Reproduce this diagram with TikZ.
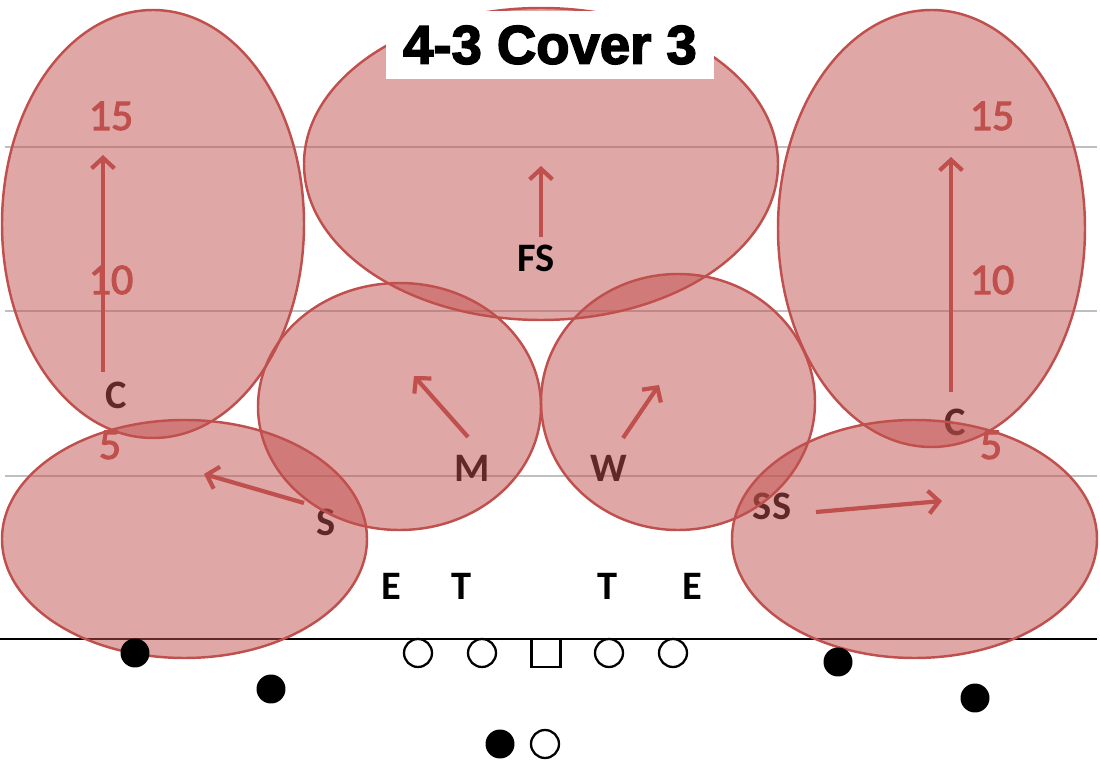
\documentclass[tikz,border=0pt]{standalone}
\usepackage{fontspec}
\setmainfont{Carlito}
\newfontfamily\titlefont{Liberation Sans}
\usetikzlibrary{arrows.meta}
\definecolor{zonered}{RGB}{192,80,77}
\definecolor{yardgray}{RGB}{191,191,191}
\newcommand{\heavytext}[2]{\special{pdf:literal direct #1 w 2 Tr}#2\special{pdf:literal direct 0 Tr}}
\tikzset{
  zone/.style={draw=zonered, line width=1.4pt, fill=zonered, fill opacity=0.5},
  route/.style={zonered, line width=2.4pt, -{Straight Barb[length=6pt, width=13pt]}},
  player/.style={font=\fontsize{23}{24}\selectfont\bfseries, inner sep=0pt},
  yardnum/.style={text=zonered, font=\fontsize{25}{26}\selectfont, inner sep=0pt},
  oline/.style={draw, line width=1.3pt, circle, minimum size=0.56cm, inner sep=0pt},
  back/.style={fill, circle, minimum size=0.58cm, inner sep=0pt}
}

\begin{document}
\begin{tikzpicture}[x=0.02cm, y=-0.02cm]
  \useasboundingbox (0,0) rectangle (1100,760);
  \foreach \yy in {147, 311, 476} {
    \draw[yardgray, line width=1pt] (5,\yy) -- (1097,\yy);
  }
  \draw[line width=0.9pt] (0,639) -- (1097,639);
  \foreach \xx/\side in {111/l, 992/r} {
    \node[yardnum] (n15\side) at (\xx,116) {\heavytext{0.6}{15}};
    \node[yardnum] (n10\side) at (\xx,280) {\heavytext{0.6}{10}};
    \node[yardnum] (n5\side) at (\xx-1,445) {\heavytext{0.6}{5}};
  }
  \node[player] (cl) at (116,395) {C};
  \node[player] (cr) at (955,422) {C};
  \node[player] (mike) at (472,468) {M};
  \node[player] (will) at (609,468) {W};
  \node[player] (sam) at (326,522) {S};
  \node[player] (ss) at (772,506) {SS};
  \node[player] (el) at (391,586) {E};
  \node[player] (tl) at (462,586) {T};
  \node[player] (tr) at (608,586) {T};
  \node[player] (er) at (692,586) {E};
  \foreach \cx/\cy/\rx/\ry in {153/224/151/214, 541/164/237/156, 931.5/228.5/153.5/218.5,
      399.5/406.5/141.5/123.5, 678/402/137/128, 184.5/539/182.5/119, 914.5/539/182.5/119} {
    \draw[zone] (\cx,\cy) ellipse [x radius=\rx*0.02cm, y radius=\ry*0.02cm];
  }
  \node[player] (fs) at (536,258) {FS};
  \coordinate (clA) at (103,372);  \coordinate (clB) at (103,155);
  \coordinate (fsA) at (541,237);  \coordinate (fsB) at (541,166);
  \coordinate (crA) at (951,392);  \coordinate (crB) at (951,157);
  \coordinate (mA) at (468,437);   \coordinate (mB) at (414,376);
  \coordinate (wA) at (623,438);   \coordinate (wB) at (659,385);
  \coordinate (sA) at (304,503);   \coordinate (sB) at (204,474);
  \coordinate (ssA) at (816,512);  \coordinate (ssB) at (942,501);
  \foreach \r in {cl, fs, cr, m, w, s, ss} {
    \draw[route] (\r A) -- (\r B);
  }
  \fill[white] (386,11) rectangle (714,79);
  \node[font=\titlefont\fontsize{31}{34}\selectfont\bfseries] (title) at (550,45) {\heavytext{0.9}{4-3 Cover 3}};
  \node[oline] (lt) at (418,653) {};
  \node[oline] (lg) at (482,653) {};
  \node[draw, line width=1.3pt, minimum width=0.58cm, minimum height=0.56cm, inner sep=0pt] (ctr) at (546,653) {};
  \node[oline] (rg) at (609,653) {};
  \node[oline] (rt) at (673,653) {};
  \node[oline] (qb) at (545,744) {};
  \node[back] (rb) at (500,744) {};
  \node[back] (wl) at (135,653) {};
  \node[back] (sl) at (271,689) {};
  \node[back] (te) at (838,662) {};
  \node[back] (wr) at (975,698) {};
\end{tikzpicture}
\end{document}
